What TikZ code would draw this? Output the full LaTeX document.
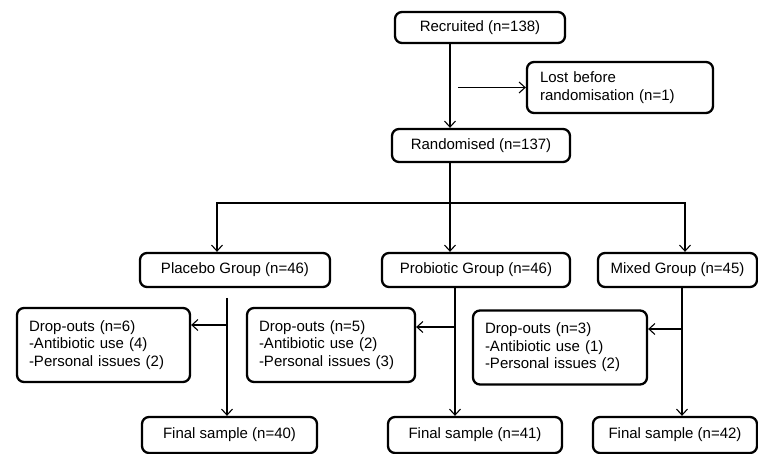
\documentclass[tikz,border=0pt]{standalone}
\usepackage{fontspec}
\setmainfont{Liberation Sans}
\usetikzlibrary{arrows.meta}
\def\spinex{450}

\begin{document}
\begin{tikzpicture}[x=1pt,y=-1pt]
		\tikzstyle{every node}=[font=\fontsize{15}{17.5}\selectfont]
		\tikzstyle{box}=[draw=black,line width=2.3pt,rounded corners=7pt,inner sep=0pt,align=center]
		\tikzstyle{note box}=[box,align=left,inner xsep=12pt]
		\tikzstyle{arr}=[-{Straight Barb[length=6pt,width=11pt]},line width=1.1pt]
		\useasboundingbox (0,0) rectangle (758,454);

			% Top of the flow
		\node[box,minimum width=170pt,minimum height=31pt] (rec) at (480,27.5) {Recruited (n=138)};
		\node[note box,inner xsep=13pt,text width=160pt,minimum height=51pt] (lost) at (620,87.5) {Lost before\\randomisation (n=1)};
		\node[box,minimum width=178pt,minimum height=33pt] (rand) at (481,145.5) {Randomised (n=137)};

			% Draw the group nodes
		\foreach \name/\x/\w/\t in {1/235/190/Placebo Group (n=46),2/476/188/Probiotic Group (n=46),3/677.5/159/Mixed Group (n=45)}
		\node[box,minimum width=\w pt,minimum height=34pt] (G-\name) at (\x,270) {\t};

			% Draw the drop-out nodes
		\foreach \name/\x/\y/\w/\n/\a/\p in {1/103.5/345/149/6/4/2,2/331/345/144/5/2/3,3/560/347.5/150/3/1/2}
		\node[note box,text width=\w pt,minimum height=74pt] (D-\name) at (\x,\y) {Drop-outs (n=\n)\\-Antibiotic use (\a)\\-Personal issues (\p)};

			% Draw the final sample nodes
		\foreach \name/\x/\w/\n in {1/229.5/175/40,2/475/174/41,3/675/164/42}
		\node[box,minimum width=\w pt,minimum height=36pt] (F-\name) at (\x,435) {Final sample (n=\n)};

			% Recruitment and randomisation
		\coordinate (spine) at (\spinex,0);
		\coordinate (lostfork) at (458,87.5);
		\coordinate (branch) at (\spinex,203);
		\draw[arr] (spine |- rec.south) -- (spine |- rand.north);
		\draw[arr] (lostfork) -- (lost.west);
		\draw[line width=1.1pt] (spine |- rand.south) -- (branch);
		\draw[arr] (branch) -| ([xshift=-18pt]G-1.north);
		\draw[arr] (branch) -- (branch |- G-2.north);
		\draw[arr] (branch) -| ([xshift=7.5pt]G-3.north);

			% Columns from each group down to its final sample
		\coordinate (col-1) at (227,298);
		\coordinate (col-2) at ([xshift=-21pt]G-2.south);
		\coordinate (col-3) at ([xshift=4.5pt]G-3.south);
		\coordinate (in-1) at ([yshift=20pt]D-1.east);
		\coordinate (in-2) at ([yshift=18pt]D-2.east);
		\coordinate (in-3) at ([yshift=18.5pt]D-3.east);
		\foreach \name in {1,2,3}
		{
		\draw[arr] (col-\name) -- (col-\name |- F-\name.north);
		\draw[arr] (col-\name |- in-\name) -- (in-\name);
		}
\end{tikzpicture}
\end{document}
